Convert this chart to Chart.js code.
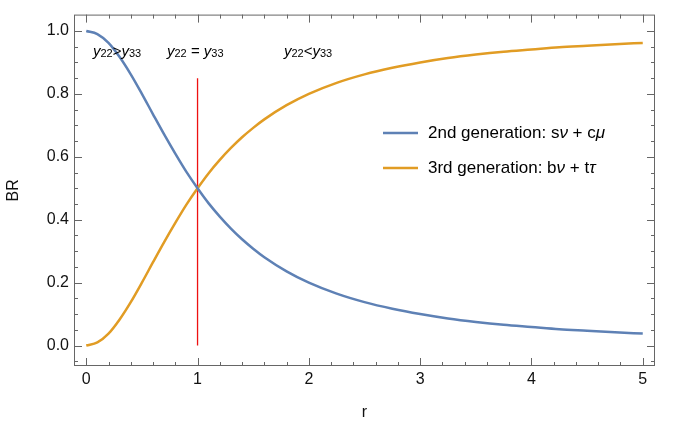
<!DOCTYPE html>
<html>
<head>
	<title>BR vs r</title>
	<script src="https://cdn.jsdelivr.net/npm/chart.js"></script>
	<style>
		body{ margin:0; background:#fff; }
		#wrap{ width:673px; height:426px; }
	</style>
</head>
<body>
	<div id="wrap"><canvas id="chart1"></canvas></div>
	<script>
		// values
		var rValues = [0, 0.1, 0.2, 0.3, 0.4, 0.5, 0.6, 0.7, 0.8, 0.9, 1.0, 1.1, 1.2, 1.3, 1.4, 1.5, 1.6, 1.8, 2.0, 2.25, 2.5, 2.75, 3.0, 3.25, 3.5, 3.75, 4.0, 4.25, 4.5, 4.75, 5.0];
		var br2nd = [1.0, 0.990, 0.962, 0.917, 0.862, 0.800, 0.735, 0.671, 0.610, 0.552, 0.500, 0.452, 0.410, 0.372, 0.338, 0.308, 0.281, 0.236, 0.200, 0.165, 0.138, 0.117, 0.100, 0.086, 0.075, 0.066, 0.059, 0.052, 0.047, 0.042, 0.038];
		var br3rd = [0, 0.010, 0.038, 0.083, 0.138, 0.200, 0.265, 0.329, 0.390, 0.448, 0.500, 0.548, 0.590, 0.628, 0.662, 0.692, 0.719, 0.764, 0.800, 0.835, 0.862, 0.883, 0.900, 0.914, 0.925, 0.934, 0.941, 0.948, 0.953, 0.958, 0.962];
		var xTicks = [0, 1, 2, 3, 4, 5];
		var yTicks = [0, 0.2, 0.4, 0.6, 0.8, 1.0];
		var redLineX = [1, 1];
		var redLineY = [0, 0.85];
		var legendLabels = ['2nd generation: ', '3rd generation: '];

		var blue = '#5e81b5';
		var orange = '#e19c24';
		var red = '#ee1111';
		var fontFam = '"Liberation Sans", Arial, sans-serif';

		function toPoints(xs, ys) {
			var pts = [];
			for (var i = 0; i < xs.length; i++) pts.push({x: xs[i], y: ys[i]});
			return pts;
		}

		// draw a run of text pieces, each with its own font and baseline shift
		function drawRich(ctx, x, y, parts) {
			ctx.textBaseline = 'middle';
			ctx.textAlign = 'left';
			parts.forEach(function(p) {
				ctx.font = p.font;
				ctx.fillText(p.t, x, y + (p.dy || 0));
				x += ctx.measureText(p.t).width;
			});
			return x;
		}

		function yRel(sym) {
			var it = 'italic 15px ' + fontFam;
			var sub = '11px ' + fontFam;
			var nr = '15px ' + fontFam;
			return [
				{t: 'y', font: it}, {t: '22', font: sub, dy: 3},
				{t: sym, font: nr},
				{t: 'y', font: it}, {t: '33', font: sub, dy: 3}
			];
		}

		var framePlugin = {
			id: 'frame',
			afterDatasetsDraw: function(chart) {
				var ctx = chart.ctx;
				var a = chart.chartArea;
				var xs = chart.scales.x, ys = chart.scales.y;
				ctx.save();
				ctx.strokeStyle = '#666';
				ctx.lineWidth = 1;
				ctx.strokeRect(a.left + 0.5, a.top + 0.5, a.right - a.left - 1, a.bottom - a.top - 1);
				ctx.beginPath();
				var i, v, p, len;
				for (i = 0; i <= 25; i++) {
					v = i * 0.2;
					p = Math.round(xs.getPixelForValue(v)) + 0.5;
					len = (i % 5 === 0) ? 8 : 4;
					ctx.moveTo(p, a.bottom); ctx.lineTo(p, a.bottom - len);
					ctx.moveTo(p, a.top); ctx.lineTo(p, a.top + len);
				}
				for (i = -1; i <= 21; i++) {
					v = i * 0.05;
					p = ys.getPixelForValue(v);
					if (p < a.top + 2 || p > a.bottom - 2) continue;
					p = Math.round(p) + 0.5;
					len = (i % 4 === 0) ? 8 : 4;
					ctx.moveTo(a.left, p); ctx.lineTo(a.left + len, p);
					ctx.moveTo(a.right, p); ctx.lineTo(a.right - len, p);
				}
				ctx.stroke();

				// region labels
				ctx.fillStyle = '#000';
				var ly = ys.getPixelForValue(0.935);
				drawRich(ctx, 93, ly, yRel('>'));
				drawRich(ctx, 167, ly, yRel(' = '));
				drawRich(ctx, 284, ly, yRel('<'));

				// legend
				var f = '17px ' + fontFam, fi = 'italic 17px ' + fontFam;
				var rows = [
					{c: blue, y: 133, parts: [{t: legendLabels[0], font: f}, {t: 's', font: f}, {t: 'ν', font: fi}, {t: ' + c', font: f}, {t: 'μ', font: fi}]},
					{c: orange, y: 168, parts: [{t: legendLabels[1], font: f}, {t: 'b', font: f}, {t: 'ν', font: fi}, {t: ' + t', font: f}, {t: 'τ', font: fi}]}
				];
				rows.forEach(function(r) {
					ctx.strokeStyle = r.c;
					ctx.lineWidth = 2.5;
					ctx.beginPath();
					ctx.moveTo(383, r.y); ctx.lineTo(418, r.y);
					ctx.stroke();
					ctx.fillStyle = '#000';
					drawRich(ctx, 428, r.y, r.parts);
				});
				ctx.restore();
			}
		};

		var ctx = document.getElementById('chart1').getContext('2d');
		var myChart = new Chart(ctx, {
			type: 'line',
			data: {
				datasets: [
					{
						label: '2nd generation',
						data: toPoints(rValues, br2nd),
						borderColor: blue,
						borderWidth: 2.5,
						pointRadius: 0,
						cubicInterpolationMode: 'monotone',
						fill: false
					},
					{
						label: '3rd generation',
						data: toPoints(rValues, br3rd),
						borderColor: orange,
						borderWidth: 2.5,
						pointRadius: 0,
						cubicInterpolationMode: 'monotone',
						fill: false
					},
					{
						label: 'r = 1',
						data: toPoints(redLineX, redLineY),
						borderColor: red,
						borderWidth: 1.3,
						pointRadius: 0,
						fill: false
					}
				]
			},
			options: {
				responsive: true,
				maintainAspectRatio: false,
				animation: false,
				clip: false,
				layout: { padding: { top: 4, right: 18, left: 0, bottom: 0 } },
				plugins: {
					legend: { display: false },
					tooltip: { enabled: false }
				},
				scales: {
					x: {
						type: 'linear',
						min: -0.11,
						max: 5.11,
						afterBuildTicks: function(s) { s.ticks = xTicks.map(function(v) { return {value: v}; }); },
						afterFit: function(s) { s.height = 60; },
						grid: { display: false, drawTicks: false },
						border: { display: false },
						ticks: { color: '#111', font: { family: fontFam, size: 16 }, padding: 4, maxRotation: 0 },
						title: { display: true, text: 'r', color: '#111', font: { family: fontFam, size: 16 }, padding: { top: 10 } }
					},
					y: {
						type: 'linear',
						min: -0.065,
						max: 1.052,
						afterBuildTicks: function(s) { s.ticks = yTicks.map(function(v) { return {value: v}; }); },
						afterFit: function(s) { s.width = 74; },
						grid: { display: false, drawTicks: false },
						border: { display: false },
						ticks: {
							color: '#111',
							font: { family: fontFam, size: 16 },
							padding: 5,
							callback: function(v) { return Number(v).toFixed(1); }
						},
						title: { display: true, text: 'BR', color: '#111', font: { family: fontFam, size: 16 }, padding: { bottom: 4 } }
					}
				}
			},
			plugins: [framePlugin]
		});
	</script>
</body>
</html>
